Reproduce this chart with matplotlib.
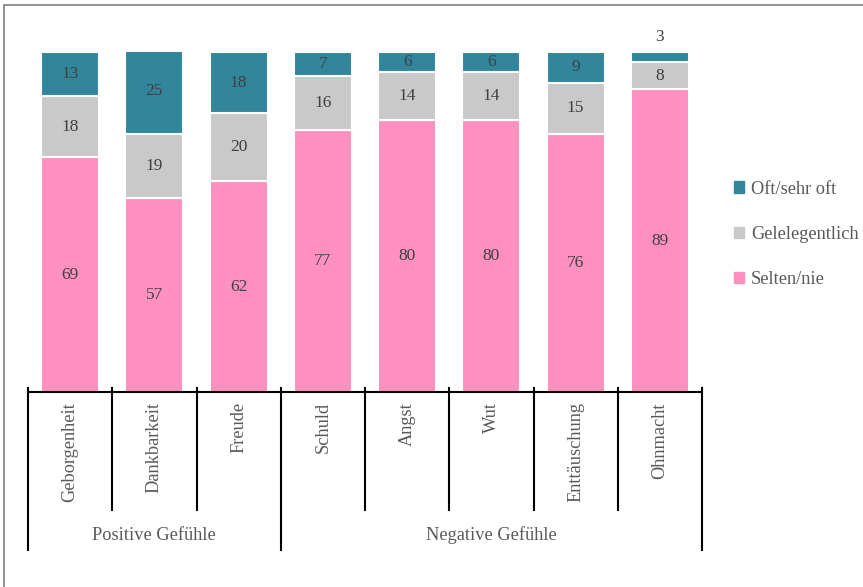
import matplotlib
matplotlib.use("Agg")
import matplotlib.pyplot as plt
from matplotlib.patches import Rectangle
from matplotlib.lines import Line2D
import numpy as np

categories = ["Geborgenheit", "Dankbarkeit", "Freude", "Schuld", "Angst", "Wut", "Enttäuschung", "Ohnmacht"]
groups = ["Positive Gefühle", "Negative Gefühle"]
group_sizes = [3, 5]
selten = [69, 57, 62, 77, 80, 80, 76, 89]
gelegentlich = [18, 19, 20, 16, 14, 14, 15, 8]
oft = [13, 25, 18, 7, 6, 6, 9, 3]
series_names = ["Selten/nie", "Gelelegentlich", "Oft/sehr oft"]
colors = ["#FF90BF", "#C9C9C9", "#31869C"]

plt.rcParams['font.family'] = ['Liberation Serif', 'DejaVu Serif']

W, H = 863, 587
fig = plt.figure(figsize=(W/100, H/100), dpi=100)
ax = fig.add_axes([28/W, (H-392)/H, 674/W, 340/H])
ax.set_xlim(-0.5, 7.5)
ax.set_ylim(0, 100)
ax.axis('off')

FS = 13.2
NFS = 12.5
x = np.arange(len(categories))
bottom = np.zeros(len(categories))
data = [selten, gelegentlich, oft]
for vals, col, name in zip(data, colors, series_names):
    vals = np.array(vals)
    ax.bar(x, vals, 0.69, bottom=bottom, color=col, edgecolor='white', linewidth=1.5, label=name)
    for xi, b, v in zip(x, bottom, vals):
        if v >= 5:
            ax.text(xi, b + v/2, str(v), ha='center', va='center', fontsize=NFS, color='#404040')
        else:
            ax.text(xi, b + v + 2.0, str(v), ha='center', va='bottom', fontsize=NFS, color='#404040')
    bottom = bottom + vals

# axis line and category separators
ax.add_line(Line2D([-0.5, 7.5], [0, 0], color='black', lw=1.5, clip_on=False))
boundaries = np.arange(len(categories) + 1) - 0.5
group_edges = np.concatenate([[0], np.cumsum(group_sizes)]) - 0.5
for b in boundaries:
    is_group = np.any(np.isclose(b, group_edges))
    y_end = -158/340*100 if is_group else -118/340*100
    ax.add_line(Line2D([b, b], [1.2, y_end], color='black', lw=1.5, clip_on=False))

for xi, c in zip(x, categories):
    ax.text(xi, -3.0, c, rotation=90, ha='center', va='top', fontsize=FS, color='#595959')

for i, g in enumerate(groups):
    cx = (group_edges[i] + group_edges[i+1]) / 2
    ax.text(cx, -143/340*100, g, ha='center', va='center', fontsize=FS, color='#595959')

# legend
handles = [Rectangle((0, 0), 1, 1, color=c) for c in colors[::-1]]
leg = fig.legend(handles, series_names[::-1], loc='upper left', bbox_to_anchor=(717/W, 1 - 164/H),
                 frameon=False, fontsize=FS, handlelength=0.55, handleheight=0.55,
                 handletextpad=0.4, labelspacing=1.55, labelcolor='#595959')

# outer frame
fig.add_artist(Rectangle((4/W, -0.1), 1.2, 1 - 5/H + 0.1, transform=fig.transFigure,
                         fill=False, edgecolor='#7f7f7f', lw=1.2))

fig.savefig("out.png", dpi=100)
